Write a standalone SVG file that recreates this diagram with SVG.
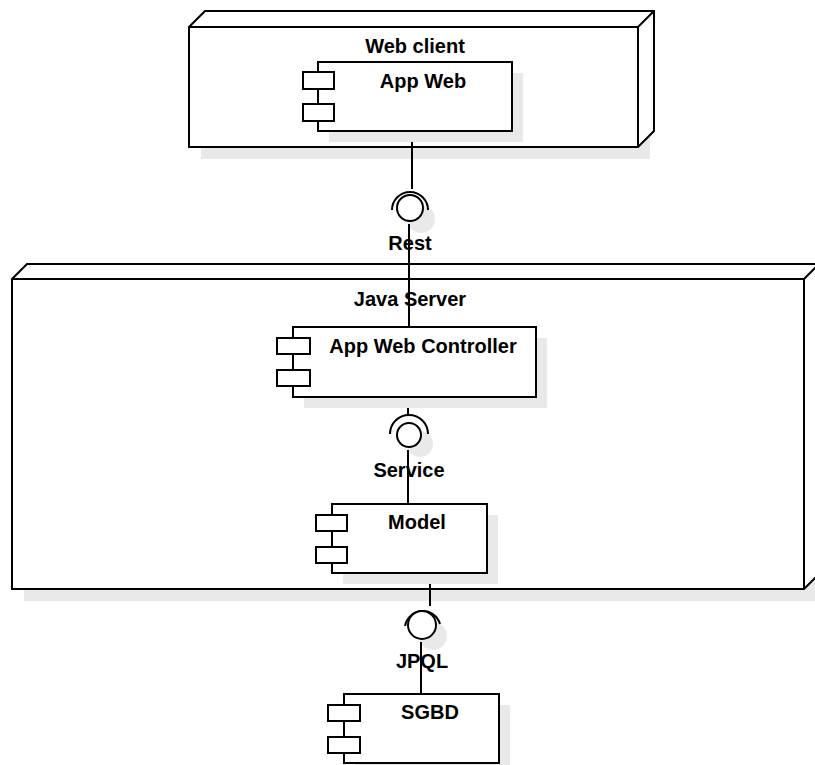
<svg xmlns="http://www.w3.org/2000/svg" width="815" height="765" viewBox="0 0 815 765">
<style>
.ln{fill:none;stroke:#000;stroke-width:2;stroke-linejoin:miter}
.face{fill:#fff;stroke:#000;stroke-width:2}
.sh{fill:#e9e9e9}
.t{font-family:"Liberation Sans",Arial,sans-serif;font-weight:bold;font-size:20px;fill:#000;text-anchor:middle}
</style>
<rect width="815" height="765" fill="#fff"/>
<g id="node-web-client">
<rect class="sh" x="201" y="39" width="449" height="120"/>
<path class="face" d="M189,27 L205,11 L654,11 L654,131 L638,147 L189,147 Z"/>
<path class="ln" d="M189,27 L638,27 L654,11 M638,27 L638,147"/>
<text class="t" x="415" y="53">Web client</text>
</g>
<g id="node-java-server">
<rect class="sh" x="24" y="291" width="792" height="310"/>
<path class="face" d="M12,279 L27,264 L819,264 L819,574 L804,589 L12,589 Z"/>
<path class="ln" d="M12,279 L804,279 L819,264 M804,279 L804,589"/>
<text class="t" x="410" y="306">Java Server</text>
</g>
<g id="connectors">
<circle class="sh" cx="421" cy="219" r="14"/>
<circle class="sh" cx="420" cy="444" r="13"/>
<circle class="sh" cx="433" cy="636" r="14"/>
<line class="ln" x1="412" y1="131" x2="412" y2="189"/>
<path class="ln" d="M392,210 A18,18 0 0 1 428,210"/>
<circle class="face" cx="410" cy="208" r="13"/>
<line class="ln" x1="409" y1="224" x2="409" y2="327"/>
<line class="ln" x1="408" y1="397" x2="408" y2="416"/>
<path class="ln" d="M390,434 A19,19 0 0 1 428,434"/>
<circle class="face" cx="409" cy="435" r="12"/>
<line class="ln" x1="408" y1="450" x2="408" y2="504"/>
<line class="ln" x1="430" y1="573" x2="430" y2="606"/>
<path class="ln" d="M405,626 A18,18 0 0 1 440,624"/>
<circle class="face" cx="422" cy="625" r="14"/>
<line class="ln" x1="421" y1="642" x2="421" y2="694"/>
<text class="t" x="410" y="250">Rest</text>
<text class="t" x="409" y="477">Service</text>
<text class="t" x="422" y="668">JPQL</text>
</g>
<g id="comp-app-web">
<rect class="sh" x="329" y="73" width="194" height="69"/>
<rect class="face" x="318" y="62" width="194" height="69"/>
<rect class="face" x="303" y="72" width="31" height="17"/>
<rect class="face" x="303" y="104" width="31" height="17"/>
<text class="t" x="423" y="88">App Web</text>
</g>
<g id="comp-app-web-controller">
<rect class="sh" x="304" y="338" width="243" height="70"/>
<rect class="face" x="293" y="327" width="243" height="70"/>
<rect class="face" x="277" y="338" width="33" height="16"/>
<rect class="face" x="277" y="370" width="33" height="16"/>
<text class="t" x="423" y="353">App Web Controller</text>
</g>
<g id="comp-model">
<rect class="sh" x="343" y="515" width="155" height="69"/>
<rect class="face" x="332" y="504" width="155" height="69"/>
<rect class="face" x="316" y="515" width="31" height="16"/>
<rect class="face" x="316" y="547" width="31" height="16"/>
<text class="t" x="417" y="529">Model</text>
</g>
<g id="comp-sgbd">
<rect class="sh" x="355" y="705" width="155" height="69"/>
<rect class="face" x="344" y="694" width="155" height="69"/>
<rect class="face" x="328" y="705" width="32" height="16"/>
<rect class="face" x="328" y="737" width="32" height="16"/>
<text class="t" x="430" y="719">SGBD</text>
</g>
</svg>
